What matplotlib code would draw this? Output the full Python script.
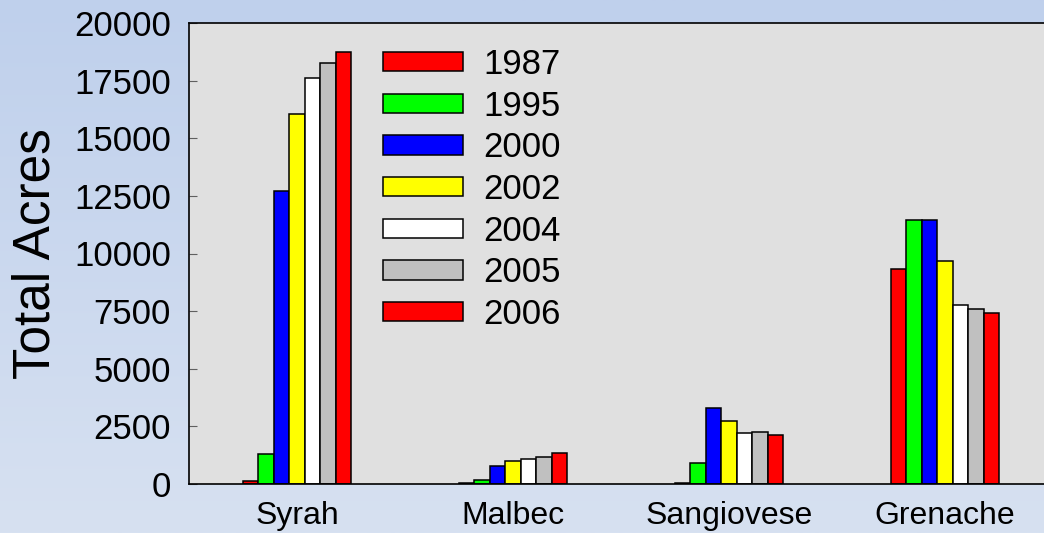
import numpy as np
import matplotlib.pyplot as plt
from matplotlib.colors import LinearSegmentedColormap

plt.rcParams['font.family'] = ['Liberation Sans', 'DejaVu Sans']

# varieties and acreage per year
varieties = ['Syrah', 'Malbec', 'Sangiovese', 'Grenache']
years = ['1987', '1995', '2000', '2002', '2004', '2005', '2006']
acres = {
    '1987': [130, 55, 60, 9330],
    '1995': [1320, 160, 900, 11450],
    '2000': [12700, 770, 3290, 11450],
    '2002': [16050, 985, 2720, 9680],
    '2004': [17630, 1100, 2210, 7750],
    '2005': [18250, 1170, 2270, 7580],
    '2006': [18760, 1340, 2140, 7410],
}
colors = ['#ff0000', '#00ff00', '#0000ff', '#ffff00', '#ffffff', '#c0c0c0', '#ff0000']

fig = plt.figure(figsize=(10.44, 5.33), dpi=100)

# gradient background
bg = fig.add_axes([0, 0, 1, 1], zorder=-10)
cmap = LinearSegmentedColormap.from_list('bg', ['#bfd0ec', '#d7e1f1'])
bg.imshow(np.linspace(0, 1, 256).reshape(-1, 1), aspect='auto', cmap=cmap,
          extent=[0, 1, 0, 1])
bg.axis('off')

ax = fig.add_axes([189/1044, 49/533, 864/1044, 461/533])
ax.set_facecolor('#e0e0e0')

x = np.arange(len(varieties))
w = 0.5 / len(years)
for i, yr in enumerate(years):
    ax.bar(x - 0.25 + w * (i + 0.5), acres[yr], width=w, color=colors[i],
           edgecolor='black', linewidth=1.1, label=yr)

ax.set_xlim(-0.5, 3.5)
ax.set_ylim(0, 20000)
ax.set_yticks(np.arange(0, 20001, 2500))
ax.set_xticks(x)
ax.set_xticklabels(varieties)
ax.tick_params(axis='y', direction='in', length=6, color='#606060', labelsize=25, pad=13)
ax.tick_params(axis='x', length=0, labelsize=23, pad=12)
ax.set_ylabel('Total Acres', fontsize=37, labelpad=10)
for s in ['left', 'bottom', 'top']:
    ax.spines[s].set_linewidth(1.2)
ax.spines['right'].set_visible(False)

ax.legend(loc='upper left', bbox_to_anchor=(383/1044, 1 - 48/533),
          bbox_transform=fig.transFigure, frameon=False, fontsize=25,
          handlelength=2.3, handleheight=0.48, handletextpad=0.6,
          labelspacing=0.25, borderpad=0, borderaxespad=0)

fig.savefig('out.png', dpi=100)
